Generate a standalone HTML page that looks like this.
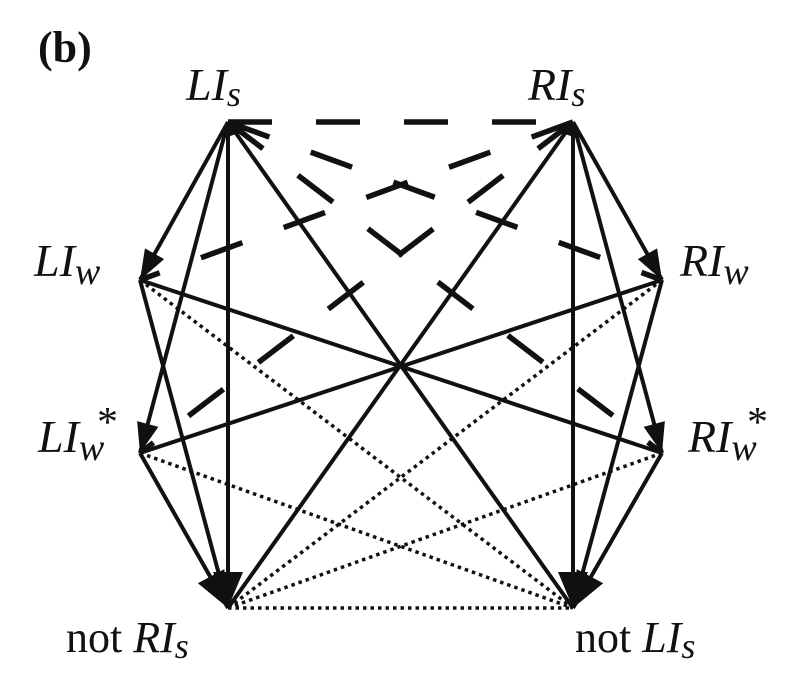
<!DOCTYPE html>
<html><head><meta charset="utf-8"><style>
html,body{margin:0;padding:0;background:#fff;}
svg{display:block;}
text{font-family:"Liberation Serif",serif;fill:#111;}
.it{font-style:italic;}
</style></head><body>
<svg width="806" height="695" viewBox="0 0 806 695" xmlns="http://www.w3.org/2000/svg">
<g stroke="#111" fill="none" stroke-linecap="butt">
<g stroke-width="4">
<line x1="228" y1="122" x2="140" y2="280"/>
<line x1="228" y1="122" x2="140" y2="453"/>
<line x1="228" y1="122" x2="228" y2="608"/>
<line x1="228" y1="122" x2="573" y2="608"/>
<line x1="573" y1="122" x2="662" y2="280"/>
<line x1="573" y1="122" x2="662" y2="453"/>
<line x1="573" y1="122" x2="573" y2="608"/>
<line x1="573" y1="122" x2="228" y2="608"/>
<line x1="140" y1="280" x2="228" y2="608"/>
<line x1="140" y1="453" x2="228" y2="608"/>
<line x1="662" y1="280" x2="573" y2="608"/>
<line x1="662" y1="453" x2="573" y2="608"/>
<line x1="140" y1="280" x2="662" y2="453"/>
<line x1="662" y1="280" x2="140" y2="453"/>
</g>
<g stroke-width="5.5" stroke-dasharray="44,44">
<line x1="228" y1="122" x2="573" y2="122"/>
<line x1="228" y1="122" x2="662" y2="280"/>
<line x1="228" y1="122" x2="662" y2="453"/>
<line x1="573" y1="122" x2="140" y2="280"/>
<line x1="573" y1="122" x2="140" y2="453"/>
</g>
<g stroke-width="3.5" stroke-dasharray="3.5,4">
<line x1="140" y1="280" x2="573" y2="608"/>
<line x1="140" y1="453" x2="573" y2="608"/>
<line x1="662" y1="280" x2="228" y2="608"/>
<line x1="662" y1="453" x2="228" y2="608"/>
<line x1="228" y1="608" x2="573" y2="608"/>
</g>
</g>
<g fill="#111">
<polygon points="0,0 -30,-11 -30,11" transform="translate(140,280) rotate(119)"/>
<polygon points="0,0 -30,-11 -30,11" transform="translate(140,453) rotate(105)"/>
<polygon points="0,0 -30,-11 -30,11" transform="translate(662,280) rotate(61)"/>
<polygon points="0,0 -30,-11 -30,11" transform="translate(662,453) rotate(75)"/>
<polygon points="0,0 -36,-15 -36,15" transform="translate(228,608) rotate(90)"/>
<polygon points="0,0 -36,-15 -36,15" transform="translate(228,608) rotate(62)"/>
<polygon points="0,0 -36,-15 -36,15" transform="translate(573,608) rotate(90)"/>
<polygon points="0,0 -36,-15 -36,15" transform="translate(573,608) rotate(118)"/>
<polygon points="0,0 -14,-7 -14,7" transform="translate(228,122) rotate(-110)"/>
<polygon points="0,0 -14,-7 -14,7" transform="translate(573,122) rotate(-70)"/>
</g>
<text x="38" y="62" font-size="44" font-weight="bold">(b)</text>
<text x="186" y="100" font-size="46" class="it">LI<tspan font-size="36" dy="6">s</tspan></text>
<text x="528" y="100" font-size="46" class="it">RI<tspan font-size="36" dy="6">s</tspan></text>
<text x="34" y="276" font-size="46" class="it">LI<tspan font-size="38" dy="8">w</tspan></text>
<text x="680" y="276" font-size="46" class="it">RI<tspan font-size="38" dy="8">w</tspan></text>
<text x="38" y="452" font-size="46" class="it">LI<tspan font-size="38" dy="8">w</tspan></text>
<text x="97" y="436" font-size="42">*</text>
<text x="688" y="452" font-size="46" class="it">RI<tspan font-size="38" dy="8">w</tspan></text>
<text x="747" y="436" font-size="42">*</text>
<text x="66" y="652" font-size="44">not <tspan class="it">RI</tspan><tspan class="it" font-size="36" dy="6">s</tspan></text>
<text x="575" y="652" font-size="44">not <tspan class="it">LI</tspan><tspan class="it" font-size="36" dy="6">s</tspan></text>
</svg>
</body></html>
